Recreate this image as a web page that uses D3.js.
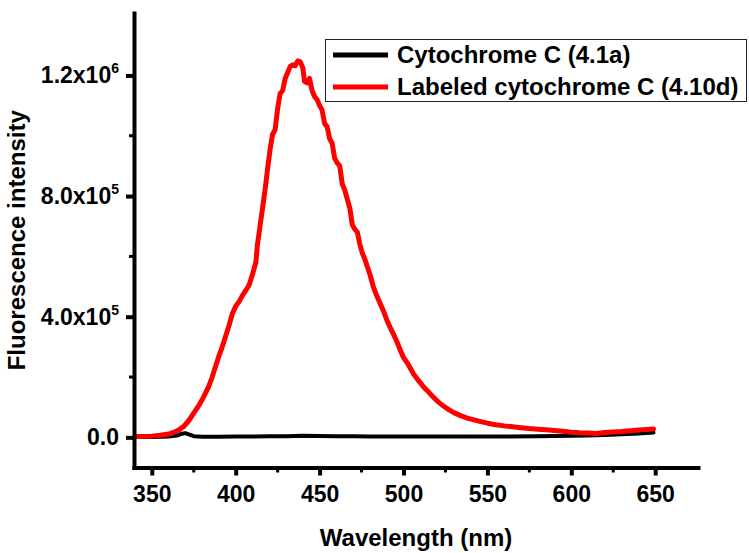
<!DOCTYPE html>
<html>
<head>
<meta charset="utf-8">
<script src="https://cdn.jsdelivr.net/npm/d3@7"></script>
<style>
  html, body { margin: 0; padding: 0; background: #fff; }
  svg { display: block; font-family: "Liberation Sans", Arial, sans-serif; font-weight: bold; }
</style>
</head>
<body>
<svg id="chart" width="749" height="553"></svg>
<script>
// Emission spectra: wavelength (nm) and fluorescence intensity (a.u.)
const labeledWavelength = [341,345,350,355,360,363,366,369,372,375,378,381,384,386,388,390,392,394,396,398,400,402,404,406,408,410,412,413,414.5,416,417.5,419,420.5,422,423.5,425,426.5,428,429.5,431,432.5,434,435.5,437,438.5,440,441,442.5,444,445.5,447,448.5,450,451.5,453,454.5,456,457.5,459,460.5,462,463.5,465,466.5,468,469.5,471,472.5,474,475.5,477,478.5,480,482,484,486,488,490,492,494,496,498,500,503,506,509,512,515,518,521,524,527,530,534,538,542,546,550,555,560,565,570,575,580,585,590,595,600,605,610,615,620,625,630,635,640,645,649];
const labeledIntensity = [3000,3000,4000,7000,11000,16000,24000,36000,55000,80000,105000,135000,170000,200000,235000,270000,300000,335000,370000,410000,435000,450000,470000,487000,505000,540000,580000,640000,700000,760000,820000,890000,955000,1005000,1020000,1090000,1140000,1150000,1190000,1210000,1230000,1235000,1232000,1248000,1245000,1225000,1180000,1175000,1190000,1150000,1130000,1120000,1100000,1085000,1040000,1030000,990000,975000,925000,910000,900000,840000,820000,790000,760000,705000,690000,680000,640000,610000,590000,565000,540000,500000,470000,445000,420000,390000,365000,342000,318000,290000,265000,240000,210000,188000,167000,150000,132000,116000,103000,92000,82000,72000,64000,58000,52000,47000,42000,38000,35000,32000,29000,27000,25000,23000,20000,17000,15000,14000,13000,16000,18000,19000,22000,24000,26000,28000];

const nativeWavelength = [341,345,350,355,360,365,368,370,372,375,380,390,400,410,420,430,440,450,460,470,480,490,500,520,540,560,580,600,610,620,630,640,649];
const nativeIntensity = [1000,1000,1500,2000,3000,6000,12000,14000,10000,4000,2000,2000,2500,3000,3500,4000,5000,4500,4000,3500,3000,3000,3000,2500,2500,2500,3500,5000,6000,8000,10000,13000,16000];

const seriesNames = ["Cytochrome C (4.1a)", "Labeled cytochrome C (4.10d)"];
const seriesColors = ["#000000", "#ff0000"];

const xMajorTicks = [350, 400, 450, 500, 550, 600, 650];
const xMinorTicks = [375, 425, 475, 525, 575, 625];
const yMajorTicks = [0, 400000, 800000, 1200000];
const yTickMantissa = ["0.0", "4.0x10", "8.0x10", "1.2x10"];
const yTickExponent = ["", "5", "5", "6"];
const yMinorTicks = [200000, 600000, 1000000];

const xTitle = "Wavelength (nm)";
const yTitle = "Fluorescence intensity";

const svg = d3.select("#chart");
const plotLeft = 134, plotRight = 698, plotTop = 13, plotBottom = 467.5;

const x = d3.scaleLinear().domain([339.4, 675.5]).range([plotLeft, plotRight]);
const y = d3.scaleLinear().domain([-100000, 1407000]).range([plotBottom, plotTop]);

// data lines
const line = d3.line().x(d => x(d[0])).y(d => y(d[1])).curve(d3.curveLinear);
const nativeData = d3.zip(nativeWavelength, nativeIntensity);
const labeledData = d3.zip(labeledWavelength, labeledIntensity);

svg.append("path").datum(nativeData)
  .attr("d", line).attr("fill", "none")
  .attr("stroke", seriesColors[0]).attr("stroke-width", 4)
  .attr("stroke-linejoin", "round").attr("stroke-linecap", "round");
svg.append("path").datum(labeledData)
  .attr("d", line).attr("fill", "none")
  .attr("stroke", seriesColors[1]).attr("stroke-width", 5)
  .attr("stroke-linejoin", "round").attr("stroke-linecap", "round");

// x axis
const xAxis = svg.append("g").attr("transform", `translate(0,${plotBottom})`)
  .call(d3.axisBottom(x).tickValues(xMajorTicks).tickSize(8).tickSizeOuter(0).tickPadding(10).tickFormat(d3.format("d")));
xAxis.select(".domain").attr("stroke-width", 4).attr("stroke-linecap", "square");
xAxis.selectAll(".tick line").attr("stroke-width", 4);
xAxis.selectAll(".tick text").attr("font-size", 23).attr("font-family", "Liberation Sans, Arial, sans-serif").attr("font-weight", "bold").attr("fill", "#000");
xAxis.selectAll(".minor").data(xMinorTicks).enter().append("line")
  .attr("class", "minor")
  .attr("x1", d => x(d)).attr("x2", d => x(d))
  .attr("y1", 0).attr("y2", 5)
  .attr("stroke", "#000").attr("stroke-width", 3);

// y axis
const yAxis = svg.append("g").attr("transform", `translate(${plotLeft},0)`)
  .call(d3.axisLeft(y).tickValues(yMajorTicks).tickSize(8).tickSizeOuter(0).tickFormat(""));
yAxis.select(".domain").attr("stroke-width", 4).attr("stroke-linecap", "square");
yAxis.selectAll(".tick line").attr("stroke-width", 4);
yAxis.selectAll(".minor").data(yMinorTicks).enter().append("line")
  .attr("class", "minor")
  .attr("x1", 0).attr("x2", -5)
  .attr("y1", d => y(d)).attr("y2", d => y(d))
  .attr("stroke", "#000").attr("stroke-width", 3);

const yLabels = svg.append("g");
yMajorTicks.forEach((v, i) => {
  const t = yLabels.append("text")
    .attr("x", plotLeft - 15).attr("y", y(v) + 8)
    .attr("text-anchor", "end").attr("font-size", 23).attr("fill", "#000");
  t.append("tspan").text(yTickMantissa[i]);
  if (yTickExponent[i]) {
    t.append("tspan").attr("dy", -10).attr("font-size", 14).text(yTickExponent[i]);
  }
});

// axis titles
svg.append("text")
  .attr("x", (plotLeft + plotRight) / 2).attr("y", 546)
  .attr("text-anchor", "middle").attr("font-size", 24).attr("fill", "#000")
  .text(xTitle);
svg.append("text")
  .attr("transform", `translate(25,${(plotTop + plotBottom) / 2}) rotate(-90)`)
  .attr("text-anchor", "middle").attr("font-size", 24).attr("fill", "#000")
  .text(yTitle);

// legend
const legend = svg.append("g");
legend.append("rect")
  .attr("x", 325.5).attr("y", 39.5).attr("width", 421).attr("height", 62)
  .attr("fill", "#fff").attr("stroke", "#222").attr("stroke-width", 1);
seriesNames.forEach((name, i) => {
  const cy = 55 + i * 32;
  legend.append("line")
    .attr("x1", 333).attr("x2", 388).attr("y1", cy).attr("y2", cy)
    .attr("stroke", seriesColors[i]).attr("stroke-width", 5);
  legend.append("text")
    .attr("x", 397).attr("y", cy + 8)
    .attr("font-size", 24).attr("fill", "#000")
    .text(name);
});
</script>
</body>
</html>
